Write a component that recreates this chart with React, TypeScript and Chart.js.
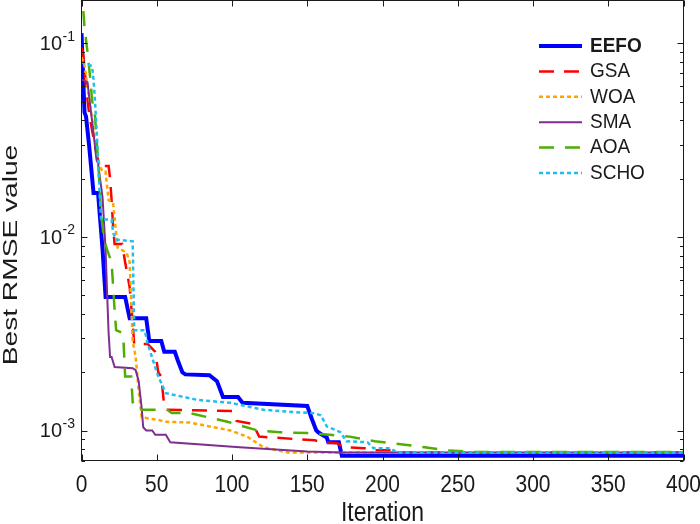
import { useEffect, useRef } from "react";
import { Chart, registerables } from "chart.js";

Chart.register(...registerables);

// ---------- data ----------
const SERIES_NAMES = ["EEFO", "GSA", "WOA", "SMA", "AOA", "SCHO"];

const X_MIN = 0;
const X_MAX = 400;
const X_TICKS = [0, 50, 100, 150, 200, 250, 300, 350, 400];

const Y_MIN = 0.0007;
const Y_MAX = 0.1667;
const Y_MAJOR = [0.001, 0.01, 0.1];
const Y_MAJOR_EXP = ["-3", "-2", "-1"];

const EEFO: [number, number][] = [
  [0, 0.113], [1, 0.07], [2, 0.044], [3, 0.042], [5, 0.03], [8, 0.0169], [11, 0.0169],
  [14, 0.0086], [16, 0.0049], [29, 0.0049], [32, 0.0038], [43, 0.0038], [45, 0.0029],
  [53, 0.0029], [55, 0.00255], [62, 0.00255], [64, 0.0023], [67, 0.002], [69, 0.00195],
  [85, 0.00193], [90, 0.0018], [94, 0.00149], [104, 0.00149], [107, 0.00139], [150, 0.00134],
  [153, 0.00115], [156, 0.001], [158, 0.00097], [163, 0.00092], [164, 0.00087], [171, 0.00087],
  [173, 0.00074], [400, 0.00074],
];

const GSA: [number, number][] = [
  [0, 0.095], [1, 0.09], [2, 0.075], [3, 0.06], [5, 0.0437], [7, 0.0357], [10, 0.027],
  [12, 0.0233], [18, 0.0233], [19, 0.02], [20, 0.0155], [21, 0.0113], [22, 0.0092],
  [27, 0.0092], [29, 0.0074], [32, 0.0055], [34, 0.0036], [35, 0.0028], [44, 0.0028],
  [49, 0.00255], [51, 0.002], [53, 0.0019], [55, 0.00133], [57, 0.00128], [100, 0.00126],
  [103, 0.00112], [114, 0.00108], [118, 0.00093], [145, 0.0009], [155, 0.00089], [160, 0.00087],
  [170, 0.00086], [174, 0.00082], [188, 0.00081], [194, 0.00079], [205, 0.00079], [212, 0.00077],
  [400, 0.00077],
];

const WOA: [number, number][] = [
  [0, 0.085], [2, 0.077], [3, 0.068], [4, 0.06], [6, 0.046], [8, 0.036], [10, 0.028],
  [12, 0.0235], [14, 0.0217], [16, 0.0217], [18, 0.0155], [21, 0.015], [23, 0.0105],
  [24, 0.0088], [30, 0.0083], [32, 0.0074], [34, 0.0029], [36, 0.0024], [38, 0.0016],
  [40, 0.00117], [52, 0.00113], [55, 0.00111], [72, 0.0011], [99, 0.001], [110, 0.00093],
  [121, 0.00082], [137, 0.00077], [400, 0.00077],
];

const SMA: [number, number][] = [
  [0, 0.065], [4, 0.063], [6, 0.046], [7, 0.04], [10, 0.025], [11, 0.024], [14, 0.016],
  [16, 0.0086], [17, 0.0052], [18, 0.0032], [19, 0.0024], [20, 0.0024], [22, 0.00213],
  [34, 0.0021], [36, 0.00205], [38, 0.0018], [40, 0.0013], [41, 0.00104], [43, 0.001],
  [47, 0.001], [49, 0.00095], [56, 0.00095], [59, 0.00087], [105, 0.00082], [150, 0.00078],
  [173, 0.00077], [400, 0.00077],
];

const AOA: [number, number][] = [
  [0, 0.2], [2, 0.121], [4, 0.09], [6, 0.064], [7, 0.051], [9, 0.042], [10, 0.032],
  [11, 0.025], [12, 0.0185], [13, 0.013], [15, 0.0097], [17, 0.0086], [20, 0.0074],
  [22, 0.0042], [23, 0.0033], [27, 0.0032], [28, 0.0028], [29, 0.0019], [33, 0.0019],
  [34, 0.0014], [37, 0.00128], [57, 0.00128], [60, 0.00123], [72, 0.00123], [97, 0.00111],
  [117, 0.001], [132, 0.00098], [150, 0.00097], [165, 0.00095], [178, 0.00093], [195, 0.00088],
  [212, 0.00085], [228, 0.00082], [243, 0.00079], [260, 0.000775], [400, 0.000775],
];

const SCHO: [number, number][] = [
  [0, 0.08], [7, 0.0764], [8, 0.065], [9, 0.05], [10, 0.036], [11, 0.025], [12, 0.017],
  [13, 0.0123], [20, 0.0123], [21, 0.0105], [23, 0.0097], [34, 0.0095], [35, 0.0033],
  [42, 0.0033], [44, 0.0028], [51, 0.0019], [53, 0.00176], [56, 0.00156], [77, 0.00144],
  [99, 0.00139], [121, 0.00128], [145, 0.00124], [154, 0.00123], [159, 0.0012], [163, 0.00105],
  [172, 0.00098], [176, 0.00088], [190, 0.00087], [194, 0.00081], [205, 0.00081], [210, 0.00077],
  [400, 0.00077],
];

const SERIES_DATA = [EEFO, GSA, WOA, SMA, AOA, SCHO];

// ---------- styles ----------
const COLORS = ["#0000FF", "#FF0000", "#FFA500", "#7E2F8E", "#4DAF00", "#1EBEF0"];
const WIDTHS = [4, 2.5, 2.5, 2, 2.5, 2.5];
const DASHES: number[][] = [[], [15, 10], [4, 3], [], [15, 11], [4, 3]];

const FONT = '"Liberation Sans", Arial, Helvetica, sans-serif';
const INK = "#1a1a1a";

function drawText(
  ctx: CanvasRenderingContext2D,
  s: string,
  x: number,
  y: number,
  size: number,
  align: CanvasTextAlign,
  sx = 1,
  sy = 1,
  rot = 0,
  weight = "normal"
) {
  ctx.save();
  ctx.translate(x, y);
  if (rot) ctx.rotate(rot);
  ctx.scale(sx, sy);
  ctx.font = `${weight} ${size}px ${FONT}`;
  ctx.textAlign = align;
  ctx.textBaseline = "middle";
  ctx.fillStyle = INK;
  ctx.fillText(s, 0, 0);
  ctx.restore();
}

const axesPlugin = {
  id: "matlabAxes",
  afterDatasetsDraw(chart: any) {
    const ctx: CanvasRenderingContext2D = chart.ctx;
    const { left, right, top, bottom } = chart.chartArea;
    const xs = chart.scales.x;
    const ys = chart.scales.y;

    ctx.save();
    ctx.strokeStyle = INK;
    ctx.lineWidth = 1;
    ctx.setLineDash([]);
    ctx.strokeRect(left, top, right - left, bottom - top);

    ctx.beginPath();
    // x ticks (bottom and top, inward)
    for (const v of X_TICKS) {
      const px = Math.round(xs.getPixelForValue(v)) + 0.5;
      ctx.moveTo(px, bottom);
      ctx.lineTo(px, bottom - 6);
      ctx.moveTo(px, top);
      ctx.lineTo(px, top + 6);
    }
    // y ticks: majors and minors
    for (let e = -4; e <= 0; e++) {
      for (let k = 1; k <= 9; k++) {
        const v = k * Math.pow(10, e);
        if (v < Y_MIN || v > Y_MAX) continue;
        const py = Math.round(ys.getPixelForValue(v)) + 0.5;
        const len = k === 1 ? 6 : 3.5;
        ctx.moveTo(left, py);
        ctx.lineTo(left + len, py);
        ctx.moveTo(right, py);
        ctx.lineTo(right - len, py);
      }
    }
    ctx.stroke();
    ctx.restore();

    // x tick labels
    for (const v of X_TICKS) {
      drawText(ctx, String(v), xs.getPixelForValue(v), 485, 21, "center", 1, 1.13);
    }
    // y tick labels 10^n
    Y_MAJOR.forEach((v, i) => {
      const py = ys.getPixelForValue(v);
      drawText(ctx, "10", 62, py + 1, 20, "right");
      drawText(ctx, Y_MAJOR_EXP[i], 62.5, py - 6.5, 14, "left");
    });

    // axis titles
    drawText(ctx, "Iteration", (left + right) / 2, 513, 23, "center", 1, 1.19);
    drawText(ctx, "Best RMSE value", 11.5, 255, 21, "center", 1.34, 1, -Math.PI / 2);

    // legend
    chart.data.datasets.forEach((ds: any, i: number) => {
      const ly = 46 + i * 25.4;
      ctx.save();
      ctx.strokeStyle = ds.borderColor;
      ctx.lineWidth = ds.borderWidth;
      ctx.setLineDash(ds.borderDash || []);
      ctx.beginPath();
      ctx.moveTo(539, ly);
      ctx.lineTo(582, ly);
      ctx.stroke();
      ctx.restore();
      drawText(ctx, ds.label, 590, ly, 19, "left", 1, 1.1, 0, i === 0 ? "bold" : "normal");
    });
  },
};

export default function App() {
  const ref = useRef<HTMLCanvasElement | null>(null);

  useEffect(() => {
    const canvas = ref.current;
    if (!canvas) return;
    const n = SERIES_NAMES.length;
    const chart = new Chart(canvas, {
      type: "line",
      data: {
        datasets: SERIES_NAMES.map((name, i) => ({
          label: name,
          data: SERIES_DATA[i].map(([x, y]) => ({ x, y })),
          borderColor: COLORS[i],
          backgroundColor: COLORS[i],
          borderWidth: WIDTHS[i],
          borderDash: DASHES[i],
          pointRadius: 0,
          fill: false,
          tension: 0,
          order: n - i,
        })),
      },
      options: {
        animation: false,
        responsive: false,
        maintainAspectRatio: false,
        events: [],
        layout: { padding: { top: 0.5, right: 16.5, left: 0, bottom: 0 } },
        plugins: {
          legend: { display: false },
          tooltip: { enabled: false },
        },
        scales: {
          x: {
            type: "linear",
            min: X_MIN,
            max: X_MAX,
            ticks: { display: false, stepSize: 50 },
            grid: { display: false },
            border: { display: false },
            afterFit: (s: any) => {
              s.height = 63.5;
            },
          },
          y: {
            type: "logarithmic",
            min: Y_MIN,
            max: Y_MAX,
            ticks: { display: false },
            grid: { display: false },
            border: { display: false },
            afterFit: (s: any) => {
              s.width = 81.5;
            },
          },
        },
      } as any,
      plugins: [axesPlugin],
    });
    return () => chart.destroy();
  }, []);

  return (
    <div
      style={{
        position: "fixed",
        left: 0,
        top: 0,
        width: 700,
        height: 524,
        background: "#fff",
      }}
    >
      <canvas ref={ref} width={700} height={524} style={{ display: "block", width: 700, height: 524 }} />
    </div>
  );
}
